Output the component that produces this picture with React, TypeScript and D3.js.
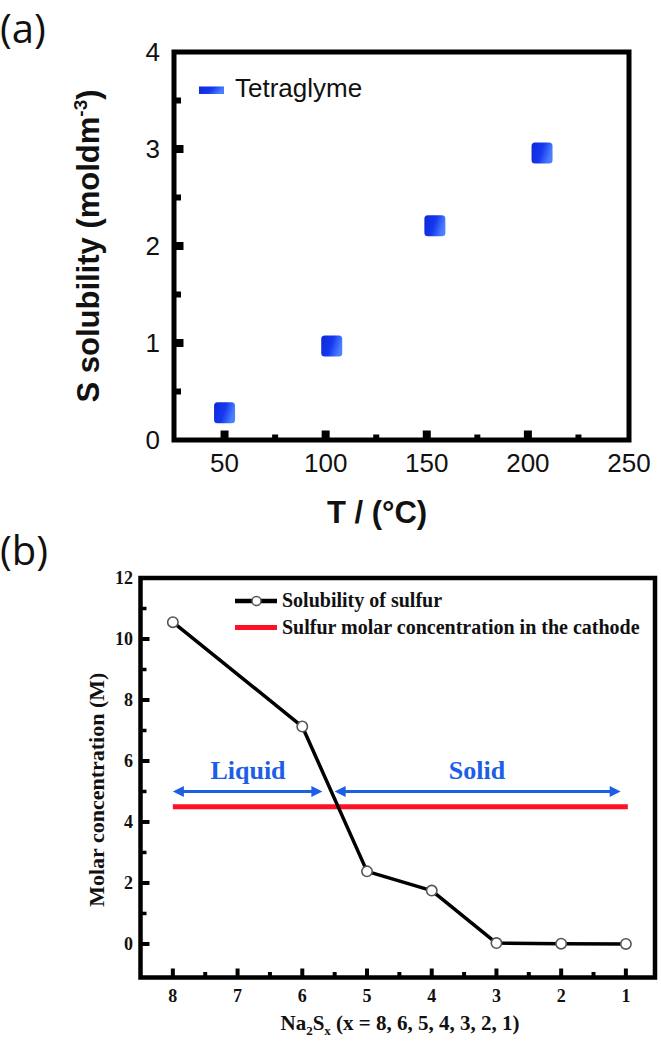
import React, { useEffect } from "react";
import * as d3 from "d3";

// ---------- Panel (a) data ----------
const tempC = [50, 103, 154, 207];
const solubilityA = [0.28, 0.97, 2.21, 2.96];
const xTicksA = [50, 100, 150, 200, 250];
const xMinorA = [75, 125, 175, 225];
const yTicksA = [0, 1, 2, 3, 4];
const yMinorA = [0.5, 1.5, 2.5, 3.5];
const legendA = "Tetraglyme";

// ---------- Panel (b) data ----------
const naSx = [8, 6, 5, 4, 3, 2, 1];
const solubilityB = [10.55, 7.13, 2.38, 1.75, 0.03, 0.01, 0.0];
const cathodeConc = 4.5;
const cathodeRange = [8, 0.97];
const xTicksB = [8, 7, 6, 5, 4, 3, 2, 1];
const xMinorB = [7.5, 6.5, 5.5, 4.5, 3.5, 2.5, 1.5];
const yTicksB = [0, 2, 4, 6, 8, 10, 12];
const yMinorB = [1, 3, 5, 7, 9, 11];
const arrowLevel = 5.0;
const liquidRange = [8, 5.69];
const solidRange = [5.5, 1.08];
const legendB = ["Solubility of sulfur", "Sulfur molar concentration in the cathode"];

const SANS = "'Liberation Sans', Arial, sans-serif";
const SERIF = "'Liberation Serif', 'Times New Roman', serif";
const BLUE = "#1d5ee6";

function Arrow({ x1, x2, y }: { x1: number; x2: number; y: number }) {
  const L = 11;
  const H = 5.5;
  return (
    <g fill={BLUE} stroke="none">
      <line x1={x1 + L - 1} x2={x2 - L + 1} y1={y} y2={y} stroke={BLUE} strokeWidth={3} />
      <polygon points={`${x1},${y} ${x1 + L},${y - H} ${x1 + L},${y + H}`} />
      <polygon points={`${x2},${y} ${x2 - L},${y - H} ${x2 - L},${y + H}`} />
    </g>
  );
}

export default function App() {
  useEffect(() => {
    document.body.style.margin = "0";
  }, []);

  // Panel (a) scales
  const xA = d3.scaleLinear().domain([25, 250]).range([174, 629]);
  const yA = d3.scaleLinear().domain([0, 4]).range([440, 52]);
  const [ax0, ax1] = xA.range();
  const [ay0, ay1] = yA.range();

  // Panel (b) scales
  const xB = d3.scaleLinear().domain([8.5, 0.55]).range([140.5, 655]);
  const yB = d3.scaleLinear().domain([-1.1, 12]).range([977.5, 578]);
  const [bx0, bx1] = xB.range();
  const [by0, by1] = yB.range();

  const lineB = d3
    .line<number>()
    .x((_, i) => xB(naSx[i]))
    .y((d) => yB(d));

  const markSize = 21;

  return (
    <svg
      width={661}
      height={1045}
      viewBox="0 0 661 1045"
      style={{ display: "block", position: "absolute", left: 0, top: 0, background: "#fff" }}
    >
      <defs>
        <linearGradient id="sqGrad" x1="0" y1="0" x2="1" y2="0.3">
          <stop offset="0%" stopColor="#0b2ad8" />
          <stop offset="55%" stopColor="#1638ee" />
          <stop offset="100%" stopColor="#4a80ff" />
        </linearGradient>
      </defs>
      <rect x={0} y={0} width={661} height={1045} fill="#fff" />

      {/* ================= Panel (a) ================= */}
      <text x={0} y={43} fontFamily="'Open Sans', 'Noto Sans', sans-serif" fontSize={40} fill="#111">
        (a)
      </text>

      {/* minor ticks */}
      {xMinorA.map((t) => (
        <line key={"xma" + t} x1={xA(t)} x2={xA(t)} y1={ay0} y2={ay0 - 5.5} stroke="#000" strokeWidth={6} />
      ))}
      {xTicksA.filter((t) => t < 250).map((t) => (
        <line key={"xMa" + t} x1={xA(t)} x2={xA(t)} y1={ay0} y2={ay0 - 9.5} stroke="#000" strokeWidth={8} />
      ))}
      {yMinorA.map((t) => (
        <line key={"yma" + t} x1={ax0} x2={ax0 + 7} y1={yA(t)} y2={yA(t)} stroke="#000" strokeWidth={6} />
      ))}
      {yTicksA.filter((t) => t > 0 && t < 4).map((t) => (
        <line key={"yMa" + t} x1={ax0} x2={ax0 + 9.5} y1={yA(t)} y2={yA(t)} stroke="#000" strokeWidth={8} />
      ))}

      {/* frame */}
      <rect x={ax0} y={ay1} width={ax1 - ax0} height={ay0 - ay1} fill="none" stroke="#000" strokeWidth={5} />

      {/* tick labels */}
      {xTicksA.map((t) => (
        <text key={"xla" + t} x={xA(t)} y={472} textAnchor="middle" fontFamily={SANS} fontSize={26} fill="#111">
          {t}
        </text>
      ))}
      {yTicksA.map((t) => (
        <text key={"yla" + t} x={160} y={yA(t)} dy="0.36em" textAnchor="end" fontFamily={SANS} fontSize={26} fill="#111">
          {t}
        </text>
      ))}

      {/* axis labels */}
      <text
        transform={`translate(99, ${(ay0 + ay1) / 2}) rotate(-90)`}
        textAnchor="middle"
        fontFamily={SANS}
        fontWeight="bold"
        fontSize={31}
        fill="#111"
      >
        S solubility (moldm
        <tspan fontSize={19} dy={-12}>-3</tspan>
        <tspan dy={12}>)</tspan>
      </text>
      <text x={377} y={523} textAnchor="middle" fontFamily={SANS} fontWeight="bold" fontSize={31} fill="#111">
        T / (°C)
      </text>

      {/* legend */}
      <rect x={199} y={86.5} width={25} height={7.5} fill="url(#sqGrad)" />
      <text x={235} y={97} fontFamily={SANS} fontSize={26} fill="#111">
        {legendA}
      </text>

      {/* markers */}
      {tempC.map((t, i) => (
        <rect
          key={"sq" + i}
          x={xA(t) - markSize / 2}
          y={yA(solubilityA[i]) - markSize / 2}
          width={markSize}
          height={markSize}
          rx={3.5}
          fill="url(#sqGrad)"
        />
      ))}

      {/* ================= Panel (b) ================= */}
      <text x={0} y={565} fontFamily="'Open Sans', 'Noto Sans', sans-serif" fontSize={40} fill="#111">
        (b)
      </text>

      {/* ticks */}
      {xMinorB.map((t) => (
        <line key={"xmb" + t} x1={xB(t)} x2={xB(t)} y1={by0} y2={by0 - 5.5} stroke="#000" strokeWidth={4} />
      ))}
      {xTicksB.map((t) => (
        <line key={"xMb" + t} x1={xB(t)} x2={xB(t)} y1={by0} y2={by0 - 9} stroke="#000" strokeWidth={4} />
      ))}
      {yMinorB.map((t) => (
        <line key={"ymb" + t} x1={bx0} x2={bx0 + 6} y1={yB(t)} y2={yB(t)} stroke="#000" strokeWidth={3.5} />
      ))}
      {yTicksB.filter((t) => t < 12).map((t) => (
        <line key={"yMb" + t} x1={bx0} x2={bx0 + 9} y1={yB(t)} y2={yB(t)} stroke="#000" strokeWidth={4} />
      ))}

      {/* frame */}
      <rect x={bx0} y={by1} width={bx1 - bx0} height={by0 - by1} fill="none" stroke="#000" strokeWidth={4.5} />

      {/* tick labels */}
      {xTicksB.map((t) => (
        <text key={"xlb" + t} x={xB(t)} y={1002} textAnchor="middle" fontFamily={SERIF} fontWeight="bold" fontSize={18} fill="#111">
          {t}
        </text>
      ))}
      {yTicksB.map((t) => (
        <text key={"ylb" + t} x={133} y={yB(t)} dy="0.35em" textAnchor="end" fontFamily={SERIF} fontWeight="bold" fontSize={18} fill="#111">
          {t}
        </text>
      ))}

      {/* axis labels */}
      <text
        transform={`translate(104, ${(by0 + by1) / 2 + 12}) rotate(-90)`}
        textAnchor="middle"
        fontFamily={SERIF}
        fontWeight="bold"
        fontSize={22}
        fill="#111"
      >
        Molar concentration (M)
      </text>
      <text x={400} y={1030} textAnchor="middle" fontFamily={SERIF} fontWeight="bold" fontSize={21} fill="#111">
        Na<tspan fontSize={13} dy={5}>2</tspan>
        <tspan dy={-5}>S</tspan>
        <tspan fontSize={13} dy={5}>x</tspan>
        <tspan dy={-5}> (x = 8, 6, 5, 4, 3, 2, 1)</tspan>
      </text>

      {/* red cathode line */}
      <line
        x1={xB(cathodeRange[0])}
        x2={xB(cathodeRange[1])}
        y1={yB(cathodeConc)}
        y2={yB(cathodeConc)}
        stroke="#ff1024"
        strokeWidth={5}
      />

      {/* arrows */}
      <Arrow x1={xB(liquidRange[0])} x2={xB(liquidRange[1])} y={yB(arrowLevel)} />
      <Arrow x1={xB(solidRange[0])} x2={xB(solidRange[1])} y={yB(arrowLevel)} />
      <text x={248} y={779} textAnchor="middle" fontFamily={SERIF} fontWeight="bold" fontSize={26} fill={BLUE}>
        Liquid
      </text>
      <text x={477} y={779} textAnchor="middle" fontFamily={SERIF} fontWeight="bold" fontSize={26} fill={BLUE}>
        Solid
      </text>

      {/* solubility line */}
      <path d={lineB(solubilityB) || ""} fill="none" stroke="#000" strokeWidth={3.5} strokeLinejoin="round" />
      {solubilityB.map((v, i) => (
        <circle key={"c" + i} cx={xB(naSx[i])} cy={yB(v)} r={5.2} fill="#fff" stroke="#555" strokeWidth={1.6} />
      ))}

      {/* legend */}
      <line x1={235} x2={277} y1={601} y2={601} stroke="#000" strokeWidth={4.5} />
      <circle cx={256.5} cy={601} r={4.5} fill="#fff" stroke="#555" strokeWidth={1.5} />
      <text x={282} y={607} fontFamily={SERIF} fontWeight="bold" fontSize={20} fill="#111">
        {legendB[0]}
      </text>
      <line x1={235} x2={277} y1={627.5} y2={627.5} stroke="#ff1024" strokeWidth={5} />
      <text x={282} y={634} fontFamily={SERIF} fontWeight="bold" fontSize={20} fill="#111">
        {legendB[1]}
      </text>
    </svg>
  );
}
